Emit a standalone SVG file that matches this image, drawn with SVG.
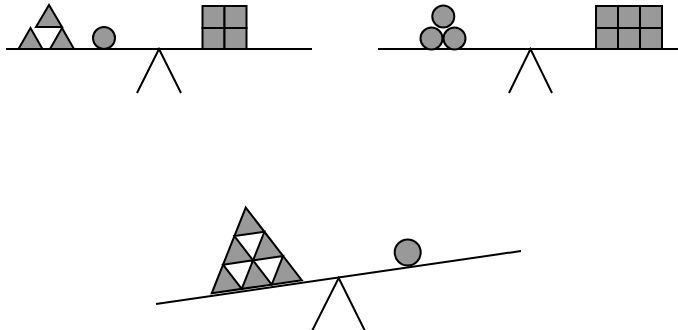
<svg xmlns="http://www.w3.org/2000/svg" width="678" height="330" viewBox="0 0 678 330">
<style>
.ln{stroke:#000;stroke-width:2;fill:none;stroke-linecap:butt}
.sh{fill:#999;stroke:#000;stroke-width:2;stroke-linejoin:miter}
.wh{fill:#fff;stroke:#000;stroke-width:2;stroke-linejoin:miter}
</style>
<rect width="678" height="330" fill="#fff"/>
<g id="balance1">
  <line class="ln" x1="6" y1="49" x2="312" y2="49"/>
  <polyline class="ln" points="137,93 159,49 181,93"/>
  <g id="triangles1">
    <polygon class="sh" points="18.5,49 42.5,49 30.5,28"/>
    <polygon class="sh" points="50,49 74,49 62,28"/>
    <polygon class="sh" points="36,27 62,27 49,5"/>
  </g>
  <circle id="circle1" class="sh" cx="104" cy="38" r="11"/>
  <g id="squares1">
    <rect class="sh" x="202.5" y="6" width="22" height="22"/>
    <rect class="sh" x="224.5" y="6" width="22" height="22"/>
    <rect class="sh" x="202.5" y="28" width="22" height="21"/>
    <rect class="sh" x="224.5" y="28" width="22" height="21"/>
  </g>
</g>
<g id="balance2">
  <line class="ln" x1="378" y1="49" x2="678" y2="49"/>
  <polyline class="ln" points="509,93 530.5,49 552,93"/>
  <g id="circles2">
    <circle class="sh" cx="431.5" cy="38.5" r="11"/>
    <circle class="sh" cx="454.5" cy="38.5" r="11"/>
    <circle class="sh" cx="443.3" cy="16.5" r="11"/>
  </g>
  <g id="squares2">
    <rect class="sh" x="596" y="6" width="22" height="22"/>
    <rect class="sh" x="618" y="6" width="22" height="22"/>
    <rect class="sh" x="640" y="6" width="22" height="22"/>
    <rect class="sh" x="596" y="28" width="22" height="21"/>
    <rect class="sh" x="618" y="28" width="22" height="21"/>
    <rect class="sh" x="640" y="28" width="22" height="21"/>
  </g>
</g>
<g id="balance3">
  <line class="ln" x1="156" y1="304" x2="521" y2="251"/>
  <polyline class="ln" points="311,333 338.7,278 366,333"/>
  <g id="bigTriangle" transform="translate(211.7,293.3) rotate(-8.26)">
    <polygon class="sh" points="0,0 91,0 46,-80"/>
    <polygon class="wh" points="30.33,0 15.33,-26.67 45.67,-26.67"/>
    <polygon class="wh" points="60.67,0 45.67,-26.67 76,-26.67"/>
    <polygon class="wh" points="45.67,-26.67 30.67,-53.33 61,-53.33"/>
  </g>
  <circle id="circle3" class="sh" cx="407.7" cy="252.5" r="13"/>
</g>
</svg>
